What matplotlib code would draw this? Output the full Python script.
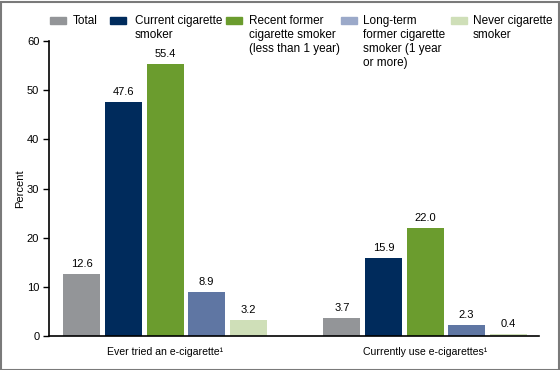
import numpy as np
import matplotlib.pyplot as plt
from matplotlib.patches import Rectangle

plt.rcParams['font.family'] = ['Liberation Sans', 'DejaVu Sans']

groups = ["Ever tried an e-cigarette\u00b9", "Currently use e-cigarettes\u00b9"]
series = ["Total", "Current cigarette\nsmoker", "Recent former\ncigarette smoker\n(less than 1 year)",
          "Long-term\nformer cigarette\nsmoker (1 year\nor more)", "Never cigarette\nsmoker"]
total = [12.6, 3.7]
current = [47.6, 15.9]
recent = [55.4, 22.0]
longterm = [8.9, 2.3]
never = [3.2, 0.4]

bar_colors = ["#939598", "#002b5c", "#6b9c2e", "#5f76a3", "#cfdfb8"]
legend_colors = ["#939598", "#002b5c", "#6b9c2e", "#9ba9c9", "#cfdfb8"]

W, H = 560, 370
fig = plt.figure(figsize=(5.6, 3.7), dpi=100)
ax = fig.add_axes([49 / W, 1 - 336 / H, 490 / W, 295 / H])

centers = np.array([0, 6.25])
values = [total, current, recent, longterm, never]
for i, (vals, c) in enumerate(zip(values, bar_colors)):
    x = centers + (i - 2)
    bars = ax.bar(x, vals, width=0.89, color=c, edgecolor='none')
    for b, v in zip(bars, vals):
        ax.text(b.get_x() + b.get_width() / 2, v + 1.0, f"{v:.1f}",
                ha='center', va='bottom', fontsize=8)

ax.set_xlim(-2.79, 8.99)
ax.set_ylim(0, 60)
ax.set_yticks(range(0, 61, 10))
ax.set_xticks(centers)
ax.set_xticklabels(groups, fontsize=7.6)
ax.tick_params(axis='x', length=0, pad=8)
ax.tick_params(axis='y', length=4, width=1, labelsize=8, pad=3)
for s in ['top', 'right']:
    ax.spines[s].set_visible(False)
ax.spines['left'].set_linewidth(1.2)
ax.spines['bottom'].set_linewidth(1.2)
fig.text(20 / W, 1 - 189 / H, "Percent", fontsize=8, rotation=90,
         ha='center', va='center')

# legend drawn by hand so the swatches line up with the first text line
patch_x = [50, 110, 226, 341, 451]
text_x = [73, 135, 249, 363, 473]
for px, tx, lab, c in zip(patch_x, text_x, series, legend_colors):
    fig.patches.append(Rectangle((px / W, 1 - 24 / H), 16 / W, 7 / H,
                                 transform=fig.transFigure, color=c))
    fig.text(tx / W, 1 - 15 / H, lab, fontsize=8.5, va='top', ha='left',
             linespacing=1.22)

fig.patches.append(Rectangle((0.5 / W, 0.5 / H), 1 - 2 / W, 1 - 2 / H,
                             transform=fig.transFigure, fill=False,
                             edgecolor='#7a7a7a', linewidth=1.5))

fig.savefig('out.png', dpi=100)
